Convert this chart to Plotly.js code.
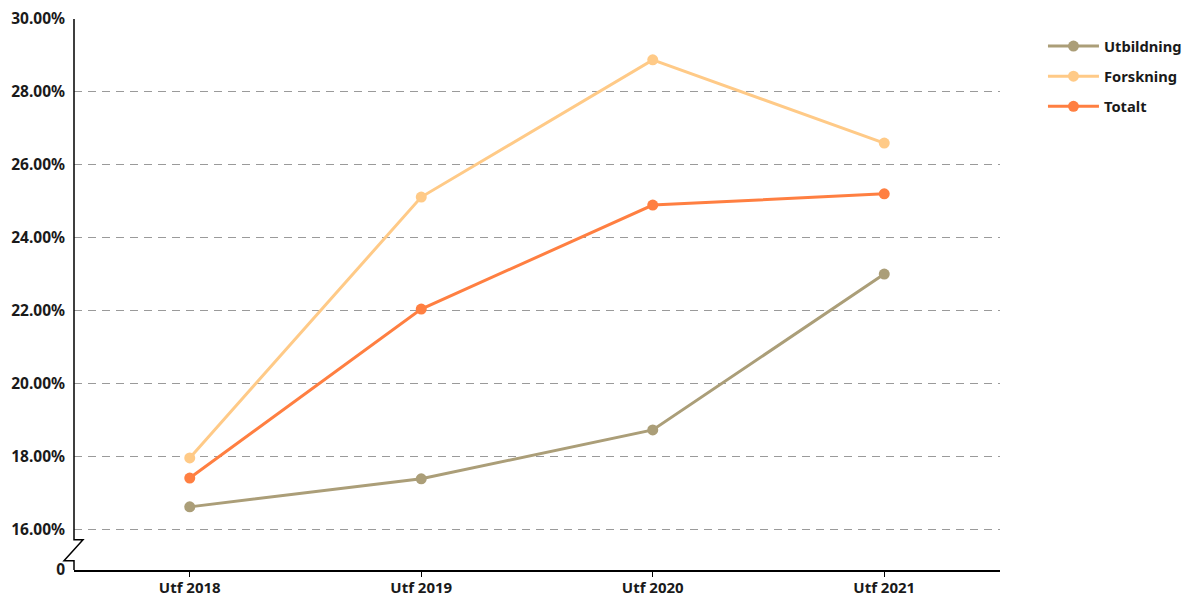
<!DOCTYPE html>
<html><head><meta charset="utf-8">
<script src="https://cdn.plot.ly/plotly-3.0.1.min.js"></script>
<style>html,body{margin:0;padding:0;background:#fff}#chart{width:1185px;height:596px}</style>
</head><body><div id="chart"></div>
<script>
const categories = ["Utf 2018", "Utf 2019", "Utf 2020", "Utf 2021"];
const utbildning = [16.63, 17.40, 18.74, 23.01];
const forskning = [17.97, 25.12, 28.88, 26.60];
const totalt = [17.42, 22.05, 24.90, 25.21];
const yTickVals = [16, 18, 20, 22, 24, 26, 28, 30];
const seriesNames = ["Utbildning", "Forskning", "Totalt"];
const colors = ["#ab9e78", "#ffca87", "#ff7f41"];

const yMin = 14.9, yMax = 30;
const fam = "'Noto Sans', sans-serif";
const font = {family: fam, size: 15, color: "#1a1a1a", weight: 700};
const yfont = {family: fam, size: 15.5, color: "#1a1a1a", weight: 700};
const lfont = {family: fam, size: 14.7, color: "#1a1a1a", weight: 700};

const data = [utbildning, forskning, totalt].map((vals, i) => ({
  type: "scatter", mode: "lines+markers", x: categories, y: vals, name: seriesNames[i],
  legendgroup: "g" + i,
  line: {color: colors[i], width: 3}, marker: {color: colors[i], size: 11},
  hovertemplate: "%{y:.2f}%<extra>" + seriesNames[i] + "</extra>"
}));

const brTop = 15.726, brBot = 15.151;
const layout = {
  width: 1185, height: 596,
  margin: {l: 74, r: 185, t: 19, b: 26, autoexpand: false},
  paper_bgcolor: "#fff", plot_bgcolor: "#fff",
  font: font,
  showlegend: true,
  legend: {x: 1.0464, xanchor: "left", y: 0.980, yanchor: "top", xref: "paper", font: lfont,
           itemwidth: 51, tracegroupgap: 8, traceorder: "grouped", bgcolor: "rgba(0,0,0,0)"},
  xaxis: {type: "category", range: [-0.5, 3.5], showgrid: false, showline: true,
          linecolor: "#000", linewidth: 1.5, ticks: "outside", ticklen: 5, tickcolor: "#000",
          tickfont: font, ticklabelstandoff: -2, fixedrange: true, zeroline: false},
  yaxis: {range: [yMin, yMax], tickvals: [yMin].concat(yTickVals),
          ticktext: ["0"].concat(yTickVals.map(v => v.toFixed(2) + "%")),
          showgrid: true, gridcolor: "#9a9a9a", griddash: "8px,6px", gridwidth: 1.2,
          showline: false, zeroline: false, ticks: "", tickfont: yfont, ticklabelstandoff: 8,
          fixedrange: true},
  shapes: [{
    type: "path", xref: "paper", yref: "y", layer: "above",
    path: `M 0 ${yMax} L 0 ${brTop} L 0.0097 ${brTop} L -0.0108 ${brBot} L 0 ${brBot} L 0 ${yMin}`,
    line: {color: "#000", width: 1.5}
  }]
};
Plotly.newPlot("chart", data, layout, {displayModeBar: false, responsive: false});
</script></body></html>
